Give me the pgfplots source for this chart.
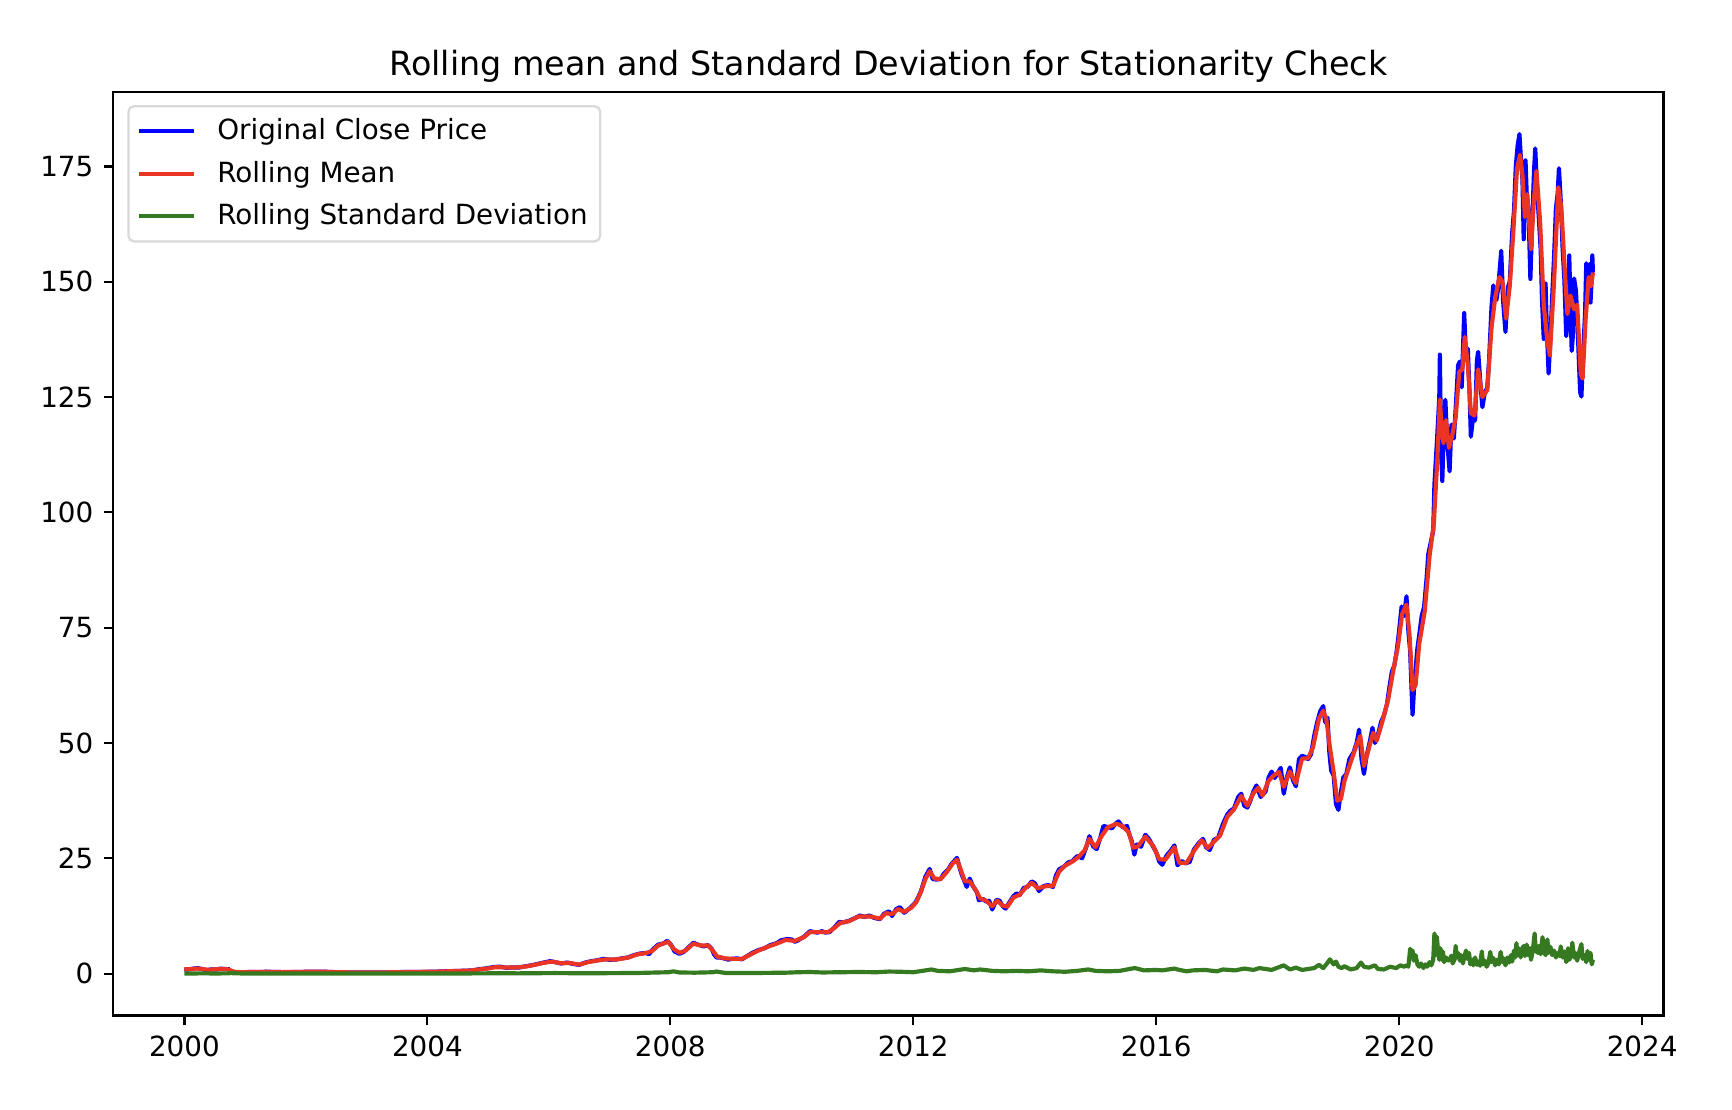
\documentclass[border=0pt]{standalone}
\usepackage{fontspec}
\setmainfont{DejaVu Sans}
\usepackage{pgfplots}
\pgfplotsset{compat=1.18}
\definecolor{mplblue}{RGB}{0,0,255}
\definecolor{mplred}{RGB}{236,52,36}
\definecolor{mplgreen}{RGB}{53,122,32}
\begin{document}
\begin{tikzpicture}
\begin{axis}[
  scale only axis,
  width=558pt, height=332.6pt,
  xmin=1998.83, xmax=2024.35,
  ymin=-9.1, ymax=191.2,
  xtick={2000,2004,...,2024},
  ytick={0,25,...,175},
  /pgf/number format/1000 sep={},
  /pgf/number format/assume math mode=true,
  tick align=outside,
  major tick length=3.5pt,
  tick style={black, line width=0.8pt},
  axis line style={black, line width=0.8pt},
  xtick pos=bottom, ytick pos=left,
  ticklabel style={font=\fontsize{10}{12}\selectfont},
  yticklabel style={inner sep=0pt, xshift=-3.5pt},
  xticklabel style={inner sep=0pt, yshift=-3.5pt},
  title={Rolling mean and Standard Deviation for Stationarity Check},
  title style={font=\fontsize{12}{14}\selectfont, inner sep=0pt, yshift=-2.75pt},
  legend cell align=left,
  legend style={at={(0.009,0.9855)}, anchor=north west, draw=black!15, line width=0.8pt, rounded corners=2pt,
    font=\fontsize{10}{12}\selectfont, inner xsep=3pt, inner ysep=3pt, row sep=3.2pt,
    nodes={inner sep=1.5pt}},
  legend image code/.code={\draw[#1, line width=1.5pt] (0pt,0pt) -- (20pt,0pt); \path (26pt,0pt);},
  every axis plot/.append style={line width=1.5pt, line join=round},
]
\addplot[mplblue] coordinates {
(2000.00,0.92)(2000.05,0.88)(2000.10,0.98)(2000.17,1.12)(2000.22,1.20)(2000.28,1.02)(2000.35,0.78)(2000.40,0.82)(2000.45,0.93)(2000.52,0.90)(2000.60,1.07)(2000.68,0.98)(2000.74,0.95)(2000.75,0.46)(2000.80,0.36)(2000.90,0.30)(2000.97,0.27)
(2001.05,0.36)(2001.2,0.33)(2001.35,0.41)(2001.5,0.36)(2001.7,0.30)(2001.85,0.37)(2001.98,0.39)(2002.1,0.43)(2002.3,0.42)(2002.5,0.30)(2002.7,0.27)(2002.8,0.25)(2003.0,0.26)(2003.2,0.24)(2003.3,0.23)(2003.5,0.32)(2003.7,0.38)(2003.98,0.38)
(2004.2,0.45)(2004.45,0.57)(2004.6,0.62)(2004.75,0.70)(2004.85,0.95)(2004.98,1.15)(2005.1,1.45)(2005.2,1.50)(2005.3,1.25)(2005.4,1.35)(2005.5,1.30)(2005.6,1.55)(2005.75,1.90)(2005.9,2.35)
(2006.02,2.70)(2006.1,2.50)(2006.2,2.20)(2006.3,2.40)(2006.4,2.10)(2006.5,1.90)(2006.6,2.40)(2006.7,2.70)(2006.8,2.90)(2006.9,3.20)(2007.0,3.00)(2007.1,3.05)(2007.2,3.30)(2007.3,3.50)(2007.4,4.00)(2007.5,4.35)(2007.6,4.50)(2007.65,4.20)(2007.7,5.10)(2007.8,6.30)(2007.88,6.50)(2007.95,7.10)
(2008.02,6.10)(2008.07,4.80)(2008.15,4.30)(2008.22,4.70)(2008.3,5.70)(2008.38,6.70)(2008.45,6.30)(2008.55,5.90)(2008.62,6.20)(2008.68,5.40)(2008.72,4.20)(2008.76,3.50)(2008.82,3.50)(2008.88,3.30)(2008.95,3.05)
(2009.02,3.20)(2009.1,3.30)(2009.18,3.10)(2009.25,3.70)(2009.35,4.50)(2009.45,5.10)(2009.55,5.50)(2009.65,6.20)(2009.75,6.60)(2009.82,7.20)(2009.92,7.50)
(2010.0,7.40)(2010.05,6.90)(2010.1,7.20)(2010.2,8.00)(2010.3,9.20)(2010.37,9.00)(2010.42,8.90)(2010.5,9.20)(2010.55,8.90)(2010.62,9.00)(2010.7,10.00)(2010.78,11.20)(2010.85,11.10)(2010.95,11.50)
(2011.05,12.10)(2011.12,12.60)(2011.2,12.30)(2011.28,12.60)(2011.35,12.10)(2011.45,11.80)(2011.52,13.00)(2011.6,13.50)(2011.65,12.50)(2011.72,14.00)(2011.78,14.40)(2011.85,13.20)(2011.9,13.70)(2011.97,14.50)
(2012.03,15.30)(2012.08,16.50)(2012.13,18.00)(2012.2,21.00)(2012.27,22.70)(2012.32,20.50)(2012.38,20.40)(2012.45,20.50)(2012.5,21.60)(2012.58,22.70)(2012.63,23.80)(2012.68,24.50)(2012.72,25.10)(2012.76,23.10)(2012.8,21.40)(2012.85,19.80)(2012.88,18.80)(2012.93,20.60)(2012.98,19.00)
(2013.05,17.60)(2013.08,15.90)(2013.15,16.20)(2013.2,15.60)(2013.25,15.80)(2013.3,13.90)(2013.37,16.00)(2013.42,15.80)(2013.48,14.50)(2013.52,14.10)(2013.6,15.80)(2013.65,16.80)(2013.7,17.40)(2013.75,17.00)(2013.82,18.60)(2013.88,18.80)(2013.95,20.00)
(2014.0,19.60)(2014.07,17.90)(2014.15,19.00)(2014.22,19.20)(2014.3,18.80)(2014.35,21.30)(2014.4,22.60)(2014.48,23.20)(2014.55,24.10)(2014.62,24.40)(2014.7,25.50)(2014.78,25.00)(2014.85,27.50)(2014.9,29.80)(2014.96,27.60)
(2015.02,27.00)(2015.08,29.50)(2015.13,32.00)(2015.2,31.80)(2015.27,31.50)(2015.33,32.50)(2015.38,33.00)(2015.45,31.70)(2015.52,32.00)(2015.55,30.40)(2015.6,28.60)(2015.64,25.80)(2015.68,28.00)(2015.75,27.50)(2015.82,30.10)(2015.88,29.20)(2015.95,27.50)
(2016.0,26.30)(2016.05,24.30)(2016.1,23.60)(2016.17,25.60)(2016.23,26.50)(2016.3,27.80)(2016.35,23.50)(2016.42,24.40)(2016.48,23.90)(2016.55,24.20)(2016.62,26.90)(2016.7,28.30)(2016.77,29.20)(2016.82,27.40)(2016.88,26.80)(2016.95,29.00)
(2017.02,29.50)(2017.1,32.50)(2017.17,34.50)(2017.22,35.30)(2017.28,35.80)(2017.35,38.30)(2017.4,39.00)(2017.45,36.40)(2017.5,36.00)(2017.55,37.50)(2017.6,39.50)(2017.65,40.80)(2017.72,38.30)(2017.8,39.50)(2017.85,42.50)(2017.9,43.80)(2017.95,42.40)
(2018.0,43.50)(2018.05,44.60)(2018.1,39.00)(2018.15,42.50)(2018.2,44.70)(2018.25,42.00)(2018.3,40.60)(2018.35,46.50)(2018.4,47.20)(2018.45,47.00)(2018.5,46.50)(2018.55,47.60)(2018.6,51.50)(2018.65,54.50)(2018.7,56.90)(2018.75,58.00)(2018.78,54.50)(2018.82,55.50)(2018.85,48.00)(2018.88,44.00)(2018.92,43.00)(2018.96,36.70)
(2019.0,35.50)(2019.03,38.50)(2019.08,42.50)(2019.13,43.30)(2019.18,46.50)(2019.25,48.00)(2019.3,50.00)(2019.34,52.90)(2019.38,46.50)(2019.42,43.30)(2019.46,47.00)(2019.52,50.50)(2019.56,53.30)(2019.6,50.00)(2019.64,51.20)(2019.7,54.50)(2019.75,56.00)(2019.8,58.50)(2019.84,62.20)(2019.88,65.50)(2019.92,66.80)(2019.96,70.00)
(2020.0,74.50)(2020.04,79.60)(2020.08,77.50)(2020.12,81.80)(2020.15,74.50)(2020.18,70.00)(2020.22,56.10)(2020.25,63.00)(2020.3,70.50)(2020.33,73.40)(2020.37,77.50)(2020.41,79.50)(2020.45,85.50)(2020.48,91.00)(2020.52,93.50)(2020.56,96.00)(2020.58,106.00)(2020.62,115.00)(2020.66,124.80)(2020.67,134.20)(2020.69,112.80)(2020.71,106.80)(2020.73,116.00)(2020.76,124.40)(2020.79,115.50)(2020.83,108.90)(2020.86,119.00)(2020.9,116.00)(2020.93,122.50)(2020.97,131.90)
(2021.0,132.70)(2021.03,127.10)(2021.07,143.20)(2021.1,134.00)(2021.13,135.50)(2021.16,125.40)(2021.18,116.40)(2021.22,121.00)(2021.25,119.90)(2021.28,133.00)(2021.3,134.80)(2021.34,127.50)(2021.37,122.80)(2021.41,126.00)(2021.45,127.00)(2021.48,133.00)(2021.52,144.50)(2021.55,149.20)(2021.6,146.00)(2021.63,148.60)(2021.68,156.70)(2021.71,146.00)(2021.75,139.10)(2021.79,148.80)(2021.82,150.00)(2021.86,160.50)(2021.89,165.30)(2021.92,175.00)(2021.95,179.50)(2021.98,182.00)
(2022.0,177.60)(2022.03,172.00)(2022.05,159.20)(2022.08,176.30)(2022.1,168.90)(2022.13,164.90)(2022.16,150.60)(2022.19,163.00)(2022.22,174.00)(2022.24,178.90)(2022.27,170.00)(2022.3,163.60)(2022.33,156.80)(2022.35,146.50)(2022.38,137.60)(2022.41,149.60)(2022.43,140.00)(2022.46,130.10)(2022.49,138.00)(2022.52,147.00)(2022.55,155.40)(2022.58,165.80)(2022.61,169.20)(2022.63,174.60)(2022.66,167.60)(2022.69,157.40)(2022.72,150.40)(2022.75,138.20)(2022.78,142.40)(2022.8,155.70)(2022.82,144.80)(2022.84,135.00)(2022.86,138.40)(2022.88,150.70)(2022.91,148.00)(2022.93,142.90)(2022.96,132.30)(2022.98,126.00)
(2023.0,125.10)(2023.03,134.80)(2023.06,143.00)(2023.08,154.00)(2023.11,150.90)(2023.13,153.80)(2023.15,145.50)(2023.17,151.00)(2023.18,155.70)(2023.19,152.00)
};
\addlegendentry{Original Close Price}
\addplot[mplred] coordinates {
(2000.00,0.95)(2000.10,0.97)(2000.2,1.12)(2000.3,0.98)(2000.4,0.82)(2000.5,0.92)(2000.6,1.02)(2000.7,0.98)(2000.76,0.70)(2000.82,0.40)(2000.95,0.29)(2001.1,0.35)(2001.35,0.39)(2001.6,0.33)(2001.9,0.37)(2002.1,0.42)(2002.3,0.41)(2002.55,0.30)(2002.8,0.26)(2003.2,0.25)(2003.5,0.31)(2003.8,0.37)
(2004.2,0.44)(2004.45,0.55)(2004.7,0.66)(2004.85,0.90)(2005.0,1.12)(2005.12,1.40)(2005.25,1.35)(2005.45,1.32)(2005.6,1.50)(2005.75,1.85)(2005.9,2.30)(2006.05,2.60)(2006.2,2.25)(2006.35,2.30)(2006.5,1.95)(2006.65,2.50)(2006.8,2.85)(2006.95,3.10)
(2007.1,3.05)(2007.3,3.45)(2007.45,4.15)(2007.6,4.45)(2007.7,4.90)(2007.8,6.10)(2007.9,6.60)(2007.97,6.90)(2008.05,5.40)(2008.15,4.50)(2008.25,5.00)(2008.38,6.50)(2008.5,6.10)(2008.62,6.10)(2008.7,5.00)(2008.77,3.70)(2008.9,3.30)
(2009.05,3.20)(2009.18,3.20)(2009.3,4.00)(2009.45,5.00)(2009.6,5.80)(2009.75,6.50)(2009.9,7.30)(2010.05,7.10)(2010.2,7.90)(2010.3,9.00)(2010.45,9.00)(2010.6,9.00)(2010.7,9.90)(2010.8,11.00)(2010.95,11.40)
(2011.1,12.40)(2011.3,12.40)(2011.45,11.90)(2011.55,13.10)(2011.65,12.90)(2011.75,14.00)(2011.85,13.40)(2011.97,14.30)(2012.05,15.50)(2012.12,17.50)(2012.2,20.50)(2012.27,22.20)(2012.35,20.60)(2012.45,20.50)(2012.55,22.00)(2012.65,23.90)(2012.72,24.70)(2012.78,22.60)(2012.85,20.00)(2012.93,20.00)
(2013.02,18.30)(2013.1,16.30)(2013.2,15.80)(2013.3,14.60)(2013.38,15.80)(2013.48,14.70)(2013.55,14.50)(2013.65,16.50)(2013.75,17.10)(2013.85,18.60)(2013.95,19.70)(2014.05,18.50)(2014.2,19.00)(2014.3,19.00)(2014.4,22.10)(2014.5,23.40)(2014.62,24.30)(2014.72,25.30)(2014.82,26.70)(2014.9,29.20)
(2015.0,27.40)(2015.1,29.80)(2015.2,31.70)(2015.35,32.50)(2015.45,31.90)(2015.55,30.60)(2015.62,27.30)(2015.7,27.60)(2015.82,29.70)(2015.95,27.70)(2016.05,24.80)(2016.15,24.70)(2016.3,27.40)(2016.38,24.00)(2016.5,24.00)(2016.62,26.60)(2016.75,28.90)(2016.85,27.20)(2016.95,28.60)
(2017.05,29.90)(2017.17,34.00)(2017.28,35.60)(2017.4,38.50)(2017.5,36.40)(2017.6,39.10)(2017.68,40.30)(2017.75,38.60)(2017.85,41.80)(2017.93,42.90)(2018.02,43.70)(2018.1,40.50)(2018.2,43.80)(2018.3,41.30)(2018.4,46.60)(2018.5,46.70)(2018.58,49.00)(2018.68,55.30)(2018.75,57.00)(2018.8,55.20)(2018.86,49.00)(2018.92,43.80)(2018.98,37.50)
(2019.04,37.80)(2019.1,41.80)(2019.2,45.80)(2019.3,49.60)(2019.36,51.50)(2019.42,45.00)(2019.5,48.80)(2019.57,52.20)(2019.63,50.50)(2019.72,54.50)(2019.82,59.50)(2019.9,65.50)(2019.98,71.00)
(2020.05,78.00)(2020.12,80.00)(2020.17,73.50)(2020.22,61.50)(2020.27,62.50)(2020.33,71.50)(2020.42,78.50)(2020.5,90.50)(2020.57,97.50)(2020.63,112.00)(2020.67,124.50)(2020.7,118.00)(2020.73,115.00)(2020.77,120.00)(2020.82,114.00)(2020.87,116.50)(2020.93,120.50)(2020.99,130.50)
(2021.04,131.00)(2021.08,138.00)(2021.13,132.00)(2021.18,121.50)(2021.24,121.00)(2021.3,131.00)(2021.37,125.00)(2021.45,126.50)(2021.52,140.00)(2021.58,146.50)(2021.65,151.00)(2021.7,150.00)(2021.76,142.00)(2021.82,149.00)(2021.88,161.00)(2021.94,174.50)(2021.99,177.50)
(2022.03,173.00)(2022.07,164.00)(2022.11,169.00)(2022.17,157.00)(2022.22,168.00)(2022.26,174.00)(2022.32,163.00)(2022.38,145.00)(2022.44,137.00)(2022.48,134.00)(2022.55,150.00)(2022.62,170.50)(2022.67,166.00)(2022.72,154.00)(2022.77,143.00)(2022.82,147.00)(2022.88,144.00)(2022.93,145.00)(2022.99,130.00)
(2023.02,129.00)(2023.07,142.00)(2023.12,151.00)(2023.16,149.00)(2023.19,152.00)
};
\addlegendentry{Rolling Mean}
\addplot[mplgreen] coordinates {
(2000.0,0.03)(2000.3,0.05)(2000.5,0.04)(2000.74,0.05)(2000.76,0.22)(2000.8,0.08)(2001,0.02)(2002,0.02)(2003,0.015)(2004,0.02)(2004.9,0.05)(2005.1,0.08)(2005.5,0.06)(2005.9,0.1)(2006.1,0.12)(2006.5,0.08)(2007,0.1)(2007.5,0.15)(2007.8,0.25)(2007.97,0.3)(2008.05,0.5)(2008.15,0.25)(2008.4,0.2)(2008.7,0.3)(2008.76,0.45)(2008.9,0.15)
(2009.2,0.12)(2009.5,0.15)(2009.9,0.2)(2010.1,0.3)(2010.3,0.35)(2010.5,0.25)(2010.8,0.3)(2011.1,0.35)(2011.4,0.3)(2011.6,0.45)(2011.8,0.4)(2012.0,0.3)(2012.2,0.7)(2012.3,0.9)(2012.4,0.6)(2012.6,0.5)(2012.75,0.8)(2012.85,1.0)(2013.0,0.7)(2013.1,0.9)(2013.3,0.6)(2013.5,0.5)(2013.7,0.6)(2013.9,0.5)
(2014.1,0.7)(2014.3,0.5)(2014.5,0.4)(2014.7,0.6)(2014.88,0.9)(2015.0,0.6)(2015.2,0.5)(2015.4,0.6)(2015.6,1.1)(2015.65,1.2)(2015.8,0.7)(2016.0,0.8)(2016.1,0.7)(2016.3,1.1)(2016.35,0.9)(2016.5,0.5)(2016.6,0.7)(2016.8,0.8)(2017.0,0.5)(2017.1,0.9)(2017.3,0.7)(2017.45,1.1)(2017.6,0.8)(2017.7,1.2)(2017.9,0.8)
(2018.1,1.8)(2018.2,0.9)(2018.3,1.3)(2018.4,0.8)(2018.6,1.2)(2018.68,1.9)(2018.75,1.2)(2018.8,2.0)(2018.86,3.1)(2018.92,2.0)(2018.96,2.6)(2019.0,1.5)(2019.05,1.2)(2019.1,1.6)(2019.2,0.9)(2019.3,1.2)(2019.37,2.4)(2019.42,1.5)(2019.5,1.3)(2019.6,1.8)(2019.65,1.0)(2019.75,0.9)(2019.85,1.5)(2019.95,1.2)
(2020.02,1.8)(2020.08,1.5)(2020.12,1.8)(2020.15,1.5)(2020.16,2.5)(2020.18,5.4)(2020.2,4.0)(2020.22,5.0)(2020.24,2.8)(2020.27,4.0)(2020.3,2.0)(2020.33,1.5)(2020.36,2.2)(2020.4,1.2)(2020.43,2.0)(2020.46,1.5)(2020.5,2.5)(2020.53,1.8)(2020.56,3.0)(2020.58,8.7)(2020.6,4.0)(2020.62,8.0)(2020.64,5.0)(2020.66,3.0)(2020.68,5.5)(2020.7,3.0)(2020.72,4.8)(2020.74,2.5)(2020.77,3.5)(2020.8,2.8)(2020.83,3.0)(2020.86,3.9)(2020.88,2.2)(2020.91,3.0)(2020.93,6.0)(2020.95,3.5)(2020.97,4.5)
(2021.0,2.8)(2021.02,4.0)(2021.05,2.2)(2021.07,3.5)(2021.1,5.0)(2021.12,3.2)(2021.15,4.5)(2021.17,2.0)(2021.2,3.0)(2021.22,1.8)(2021.25,3.5)(2021.28,1.9)(2021.3,2.6)(2021.33,1.7)(2021.36,4.8)(2021.38,2.0)(2021.41,2.8)(2021.44,1.5)(2021.47,2.3)(2021.5,4.7)(2021.52,2.5)(2021.55,3.4)(2021.58,1.8)(2021.61,3.0)(2021.64,2.0)(2021.67,4.7)(2021.7,2.5)(2021.72,3.3)(2021.75,1.8)(2021.78,3.5)(2021.81,2.4)(2021.84,4.0)(2021.86,2.6)(2021.89,5.0)(2021.91,3.5)(2021.93,6.6)(2021.95,4.0)(2021.97,5.5)
(2022.0,3.5)(2022.02,5.2)(2022.05,6.0)(2022.07,3.8)(2022.1,6.3)(2022.12,4.0)(2022.15,5.5)(2022.17,3.0)(2022.2,5.0)(2022.23,8.7)(2022.25,5.0)(2022.28,4.5)(2022.3,6.0)(2022.33,4.2)(2022.36,7.9)(2022.38,5.0)(2022.41,4.0)(2022.44,7.4)(2022.46,4.5)(2022.49,5.8)(2022.52,4.0)(2022.55,5.0)(2022.58,3.5)(2022.61,4.5)(2022.64,3.8)(2022.66,5.9)(2022.69,3.5)(2022.72,4.8)(2022.75,2.5)(2022.78,5.5)(2022.8,3.0)(2022.83,4.0)(2022.85,6.7)(2022.88,3.5)(2022.9,4.5)(2022.93,2.8)(2022.96,4.5)
(2023.0,6.4)(2023.02,3.2)(2023.05,4.0)(2023.08,2.5)(2023.1,4.9)(2023.13,3.0)(2023.15,4.5)(2023.17,2.0)(2023.19,3.0)
};
\addlegendentry{Rolling Standard Deviation}
\end{axis}
\path (current axis.south west) ++(-40.8pt,-33.8pt);
\path (current axis.north east) ++(24.7pt,33pt);
\end{tikzpicture}
\end{document}
